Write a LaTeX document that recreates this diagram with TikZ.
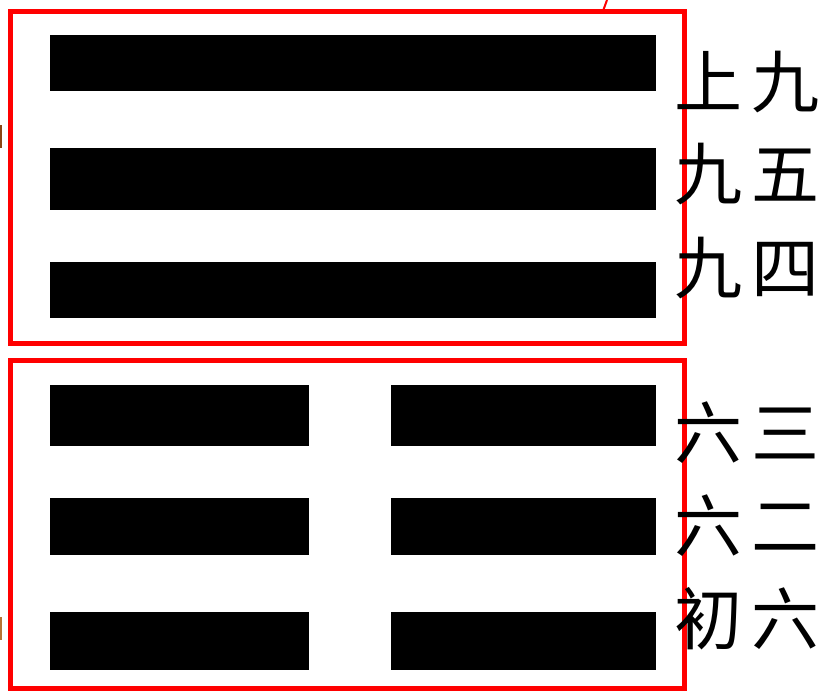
\documentclass[tikz,border=0pt]{standalone}
\usepackage{fontspec}
\newfontfamily\cjk{Noto Sans CJK SC}
\tikzset{every picture/.style={line width=0.75pt}}
\tikzset{yaolabel/.style={anchor=west, inner sep=0pt, font=\cjk\fontsize{51}{51}\selectfont}}
\newcommand{\yaopair}[2]{#1\kern0.14em#2}

\begin{document}
\begin{tikzpicture}[x=0.75pt,y=0.75pt,yscale=-1,xscale=1]
\path[use as bounding box] (0,0) rectangle (830,690); %set diagram to 830 x 690

%Shape: Rectangle [upper trigram frame]
\draw [color=red, line width=3.75] (10,11) -- (684,11) -- (684,343) -- (10,343) -- cycle ;
%Straight Lines [frame lead]
\draw [color=red, line width=1.5] (603,11) -- (607,0) ;
%Shape: Rectangle [lower trigram frame]
\draw [color=red, line width=3.75] (10,360) -- (684,360) -- (684,688) -- (10,688) -- cycle ;

%Shape: Rectangle [marks on left edge]
\fill [color={rgb, 255:red, 139; green, 69; blue, 19 }] (0,125) rectangle (2,148) ;
\fill [color={rgb, 255:red, 184; green, 115; blue, 51 }] (0,617) rectangle (2,640) ;

%Shape: Rectangle [solid lines]
\fill (50,35) rectangle (656,91) ;
\fill (50,148) rectangle (656,210) ;
\fill (50,262) rectangle (656,318) ;
%Shape: Rectangle [broken lines]
\foreach \ytop/\ybot in {385/446, 498/555, 612/670} {
  \fill (50,\ytop) rectangle (309,\ybot) ;
  \fill (391,\ytop) rectangle (656,\ybot) ;
}

% Text Node
\draw (674,82) node [yaolabel] (shangjiu) {\yaopair{上}{九}};
% Text Node
\draw (674,174) node [yaolabel] (jiuwu) {\yaopair{九}{五}};
% Text Node
\draw (674,268) node [yaolabel] (jiusi) {\yaopair{九}{四}};
% Text Node
\draw (674,433) node [yaolabel] (liusan) {\yaopair{六}{三}};
% Text Node
\draw (674,526) node [yaolabel] (liuer) {\yaopair{六}{二}};
% Text Node
\draw (674,619) node [yaolabel] (chuliu) {\yaopair{初}{六}};

\end{tikzpicture}
\end{document}
